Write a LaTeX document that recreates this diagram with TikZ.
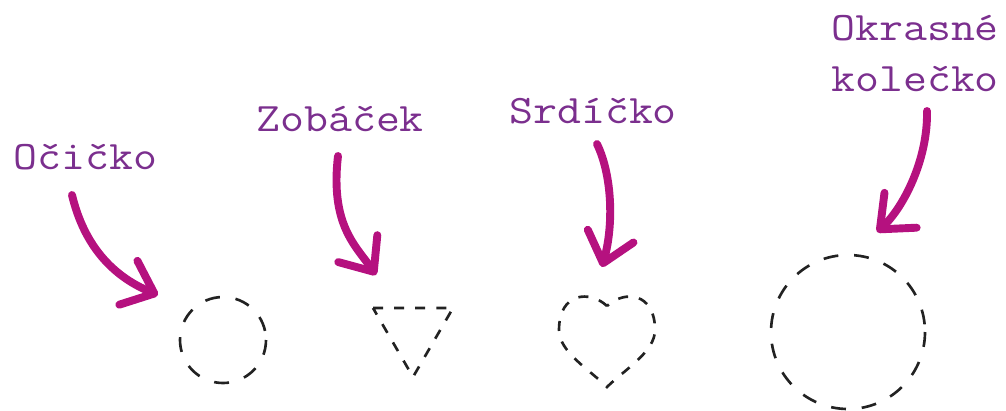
\documentclass[tikz,border=0pt]{standalone}
\usepackage{fontspec}
\newfontfamily\labelfont[FakeStretch=1.15]{Latin Modern Mono}
\usetikzlibrary{arrows.meta}
\definecolor{labelpurple}{HTML}{7B2F8E}
\definecolor{arrowpink}{HTML}{B5117F}
\definecolor{outlinegray}{HTML}{222222}
\tikzset{
  tag/.style={anchor=base west, inner sep=0pt, text=labelpurple,
    font=\labelfont\fontsize{23}{29}\selectfont},
  pointer/.style={draw=arrowpink, line width=4.5pt, line cap=round,
    -{Straight Barb[length=16pt, width=27pt, round]}},
  outline/.style={draw=outlinegray, line width=1.5pt, dash pattern=on 8.5pt off 9pt},
  fine outline/.style={outline, dash pattern=on 5.7pt off 6.3pt}
}
\begin{document}
\begin{tikzpicture}[x=0.02cm,y=-0.02cm]
\useasboundingbox (0,0) rectangle (1006,410);

%Ocicko
\node[tag] (ocicko) at (13,169) {Očičko};
\coordinate (ocicko tail) at (72,195);
\coordinate (ocicko tip) at (158,295);
\draw[pointer] (ocicko tail) .. controls (84,245) and (112,276) .. (ocicko tip);
\draw[outline] (223,340) circle[radius=43];

%Zobacek
\node[tag] (zobacek) at (256,131) {Zobáček};
\coordinate (zobacek tail) at (338,156);
\coordinate (zobacek tip) at (376,275);
\draw[pointer] (zobacek tail) .. controls (330,225) and (356,246) .. (zobacek tip);
\draw[fine outline] (373,308) -- (453,308) -- (413,377) -- cycle;

%Srdicko
\node[tag] (srdicko) at (509,123) {Srdíčko};
\coordinate (srdicko tail) at (597,144);
\coordinate (srdicko tip) at (602,267);
\draw[pointer] (srdicko tail) .. controls (612,175) and (614,224) .. (srdicko tip);
\draw[fine outline] (607,306) .. controls (590,290) and (559,292) .. (559,330)
  .. controls (559,352) and (590,370) .. (607,387)
  .. controls (624,370) and (655,352) .. (655,330)
  .. controls (655,292) and (624,290) .. cycle;

%Okrasne kolecko
\node[tag] (okrasne) at (831,40) {Okrasné};
\node[tag] (kolecko) at (831,91) {kolečko};
\coordinate (kolecko tail) at (927,111);
\coordinate (kolecko tip) at (877,232);
\draw[pointer] (kolecko tail) .. controls (928,160) and (903,208) .. (kolecko tip);
\draw[outline] (848,332) circle[radius=77];

\end{tikzpicture}
\end{document}
